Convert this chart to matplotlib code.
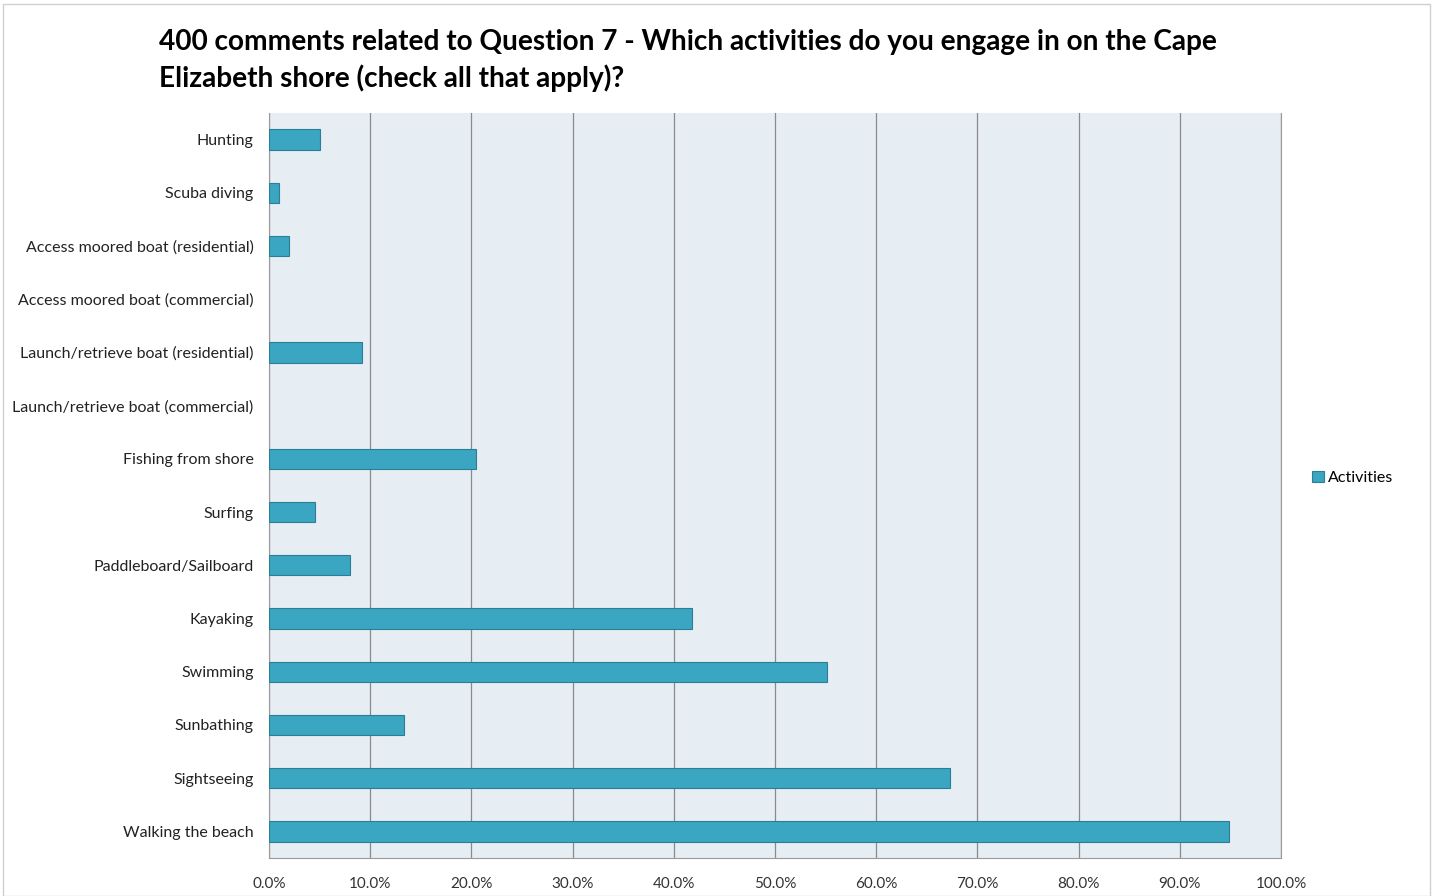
import matplotlib.pyplot as plt
from matplotlib.patches import Rectangle

plt.rcParams['font.family'] = ['Lato', 'DejaVu Sans']

# 数据
categories = ['Hunting', 'Scuba diving', 'Access moored boat (residential)',
              'Access moored boat (commercial)', 'Launch/retrieve boat (residential)',
              'Launch/retrieve boat (commercial)', 'Fishing from shore', 'Surfing',
              'Paddleboard/Sailboard', 'Kayaking', 'Swimming', 'Sunbathing',
              'Sightseeing', 'Walking the beach']
values = [5.0, 1.0, 2.0, 0.0, 9.2, 0.0, 20.5, 4.5, 8.0, 41.8, 55.1, 13.3, 67.3, 94.9]
ticks = [0, 10, 20, 30, 40, 50, 60, 70, 80, 90, 100]
tick_labels = ['%.1f%%' % t for t in ticks]

fig = plt.figure(figsize=(14.33, 8.96), dpi=100)
ax = fig.add_axes([269 / 1433, 1 - 858 / 896, (1281 - 269) / 1433, (858 - 113) / 896])

ax.set_facecolor('#e6edf3')
# 0值不画边框
lw = [0.8 if v > 0 else 0 for v in values]
ax.barh(range(len(categories)), values, height=0.38, color='#3aa6c2',
        edgecolor='#2a7f96', linewidth=lw, label='Activities', zorder=3)

ax.set_xlim(0, 100)
ax.set_ylim(len(categories) - 0.5, -0.5)
ax.set_yticks(range(len(categories)))
ax.set_yticklabels(categories, fontsize=11.5, color='#222222')
ax.set_xticks(ticks)
ax.set_xticklabels(tick_labels, fontsize=11, color='#333333')
ax.tick_params(axis='x', length=0, pad=14)
ax.tick_params(axis='y', length=0, pad=11)
ax.grid(axis='x', color='#8a8a8a', linewidth=0.9, zorder=1)
for s in ax.spines.values():
    s.set_color('#9a9a9a')
ax.spines['top'].set_visible(False)

fig.text(159 / 1433, 1 - 42 / 896,
         '400 comments related to Question 7 - Which activities do you engage in on the Cape',
         fontsize=20.2, fontweight='bold', va='center', ha='left')
fig.text(159 / 1433, 1 - 78 / 896, 'Elizabeth shore (check all that apply)?',
         fontsize=20.2, fontweight='bold', va='center', ha='left')

leg = fig.legend(loc='center left', bbox_to_anchor=(1298 / 1433, 1 - 478 / 896),
                 frameon=False, fontsize=11.5, handlelength=0.7, handleheight=0.7,
                 handletextpad=0.3)

fig.patches.append(Rectangle((3 / 1433, 0), 1 - 6 / 1433, 1 - 4 / 896,
                             transform=fig.transFigure, fill=False,
                             edgecolor='#d0d0d0', linewidth=1))

plt.savefig('out.png', dpi=100)
